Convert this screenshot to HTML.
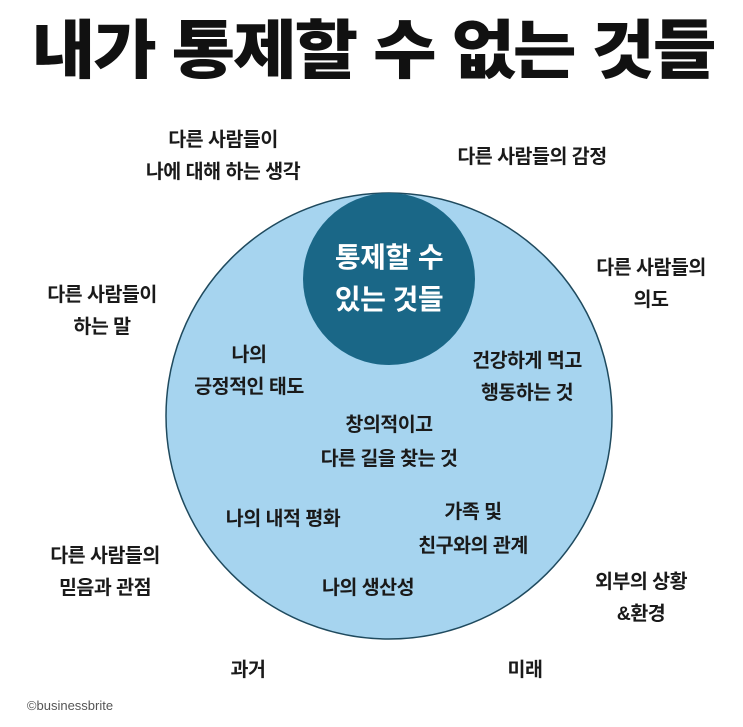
<!DOCTYPE html>
<html><head><meta charset="utf-8"><style>
html,body{margin:0;padding:0;background:#fff;}
body{width:743px;height:727px;position:relative;overflow:hidden;font-family:"Liberation Sans","Noto Sans CJK KR",sans-serif;}
.t{position:absolute;transform:translate(-50%,-50%);text-align:center;white-space:nowrap;font-weight:700;font-size:19.5px;line-height:32px;color:#1a1a1a;letter-spacing:-0.5px;}
.title{position:absolute;left:373px;top:51px;transform:translate(-50%,-50%) scaleX(1.08);font-size:64px;font-weight:900;white-space:nowrap;color:#111;letter-spacing:-2px;line-height:1;}
</style></head><body>
<div class="title">내가 통제할 수 없는 것들</div>
<svg width="743" height="727" style="position:absolute;left:0;top:0">
<circle cx="389" cy="416" r="223" fill="#a6d4ef" stroke="#1f4a5e" stroke-width="1.5"/>
<circle cx="389" cy="279" r="86" fill="#1a6787"/>
</svg>
<div class="t" style="left:223px;top:156px">다른 사람들이<br>나에 대해 하는 생각</div>
<div class="t" style="left:532px;top:157px">다른 사람들의 감정</div>
<div class="t" style="left:102px;top:311px">다른 사람들이<br>하는 말</div>
<div class="t" style="left:651px;top:284px">다른 사람들의<br>의도</div>
<div class="t" style="left:389px;top:279px;color:#fff;font-size:28px;line-height:42px">통제할 수<br>있는 것들</div>
<div class="t" style="left:249px;top:371px">나의<br>긍정적인 태도</div>
<div class="t" style="left:527px;top:377px">건강하게 먹고<br>행동하는 것</div>
<div class="t" style="left:389px;top:442px;line-height:34px">창의적이고<br>다른 길을 찾는 것</div>
<div class="t" style="left:283px;top:519px">나의 내적 평화</div>
<div class="t" style="left:473px;top:529px;line-height:34px">가족 및<br>친구와의 관계</div>
<div class="t" style="left:105px;top:572px">다른 사람들의<br>믿음과 관점</div>
<div class="t" style="left:368px;top:588px">나의 생산성</div>
<div class="t" style="left:641px;top:598px">외부의 상황<br>&amp;환경</div>
<div class="t" style="left:248px;top:670px">과거</div>
<div class="t" style="left:525px;top:670px">미래</div>
<div class="t" style="left:70px;top:706px;font-size:13px;font-weight:400;color:#555;letter-spacing:0">©businessbrite</div>
</body></html>
